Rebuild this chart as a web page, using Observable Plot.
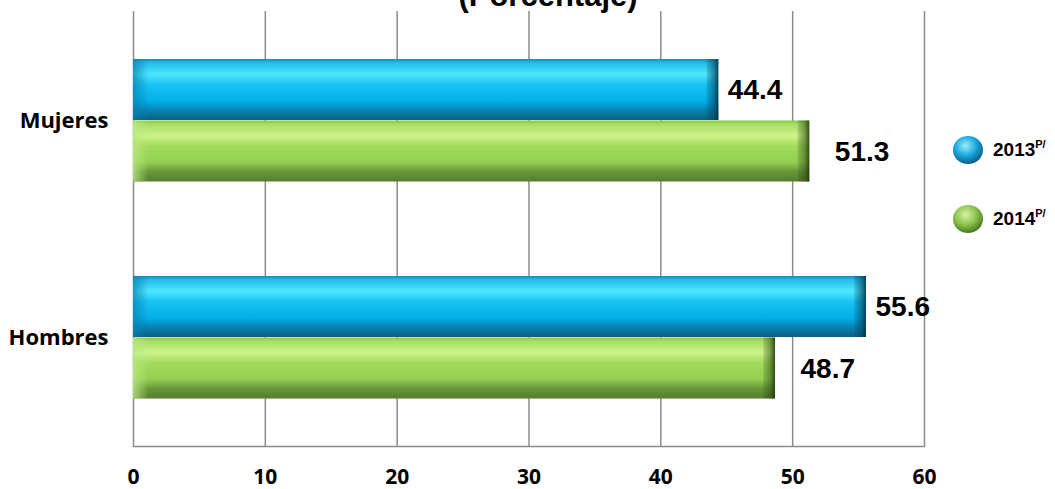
<!DOCTYPE html>
<html>
<head>
<meta charset="utf-8">
<script src="https://cdn.jsdelivr.net/npm/d3@7"></script>
<script src="https://cdn.jsdelivr.net/npm/@observablehq/plot@0.6"></script>
<style>
  html, body { margin: 0; padding: 0; background: #fff; }
  #wrap { position: relative; width: 1055px; height: 489px; overflow: hidden; }
  #title { position: absolute; left: 0; width: 1096px; top: -20px; text-align: center;
           font: bold 31px/31px "Liberation Sans", Arial, sans-serif; color: #000; white-space: nowrap; }
  #legend { position: absolute; left: 0; top: 0; pointer-events: none; }
  #chart svg g[aria-label="x-axis tick label"] text,
  #chart svg g[aria-label="y-axis tick label"] text {
    font-family: "Open Sans", sans-serif; font-weight: bold; fill: #000;
  }
</style>
</head>
<body>
<div id="wrap">
  <div id="chart"></div>
  <div id="title">(Porcentaje)</div>
  <svg id="legend" width="1055" height="489"></svg>
</div>
<script>
const categories = ["Mujeres", "Hombres"];
const seriesNames = ["2013", "2014"];
const values2013 = [44.4, 55.6];
const values2014 = [51.3, 48.7];
const xTicks = [0, 10, 20, 30, 40, 50, 60];

const rows = categories.flatMap((c, i) => [
  {cat: c, series: seriesNames[0], value: values2013[i]},
  {cat: c, series: seriesNames[1], value: values2014[i]}
]);
const b13 = rows.filter(d => d.series === seriesNames[0]);
const b14 = rows.filter(d => d.series === seriesNames[1]);

const in13 = {insetTop: 47, insetBottom: 109};
const in14 = {insetTop: 108.5, insetBottom: 47.5};
const labelStyle = {fontSize: 28, fontWeight: "bold", fontFamily: "Liberation Sans, Arial, sans-serif", fill: "#000", textAnchor: "start"};

const chart = Plot.plot({
  width: 1055,
  height: 489,
  marginLeft: 133,
  marginRight: 131,
  marginTop: 11,
  marginBottom: 43,
  style: {background: "transparent", color: "#000"},
  x: {domain: [0, 60]},
  y: {domain: categories, padding: 0},
  marks: [
    Plot.gridX(xTicks, {stroke: "#8c8c8c", strokeOpacity: 1, strokeWidth: 1.5}),
    Plot.frame({anchor: "bottom", stroke: "#8c8c8c", strokeWidth: 1.5}),
    Plot.barX(b13, {y: "cat", x: "value", ...in13, fill: "url(#g13)"}),
    Plot.barX(b13, {y: "cat", x1: 0, x2: d => Math.min(1.2, d.value), ...in13, fill: "url(#start13)"}),
    Plot.barX(b13, {y: "cat", x1: d => d.value - 0.9, x2: "value", ...in13, fill: "url(#end13)"}),
    Plot.barX(b14, {y: "cat", x: "value", ...in14, fill: "url(#g14)"}),
    Plot.barX(b14, {y: "cat", x1: 0, x2: d => Math.min(1.2, d.value), ...in14, fill: "url(#start14)"}),
    Plot.barX(b14, {y: "cat", x1: d => d.value - 0.9, x2: "value", ...in14, fill: "url(#end14)"}),
    Plot.text(b13, {y: "cat", x: "value", text: d => d.value.toFixed(1), dy: -31, dx: 9, ...labelStyle}),
    Plot.text(b14, {y: "cat", x: "value", text: d => d.value.toFixed(1), dy: 31, dx: 25, ...labelStyle}),
    Plot.axisX(xTicks, {tickSize: 0, tickPadding: 23, label: null, fontSize: 21}),
    Plot.axisY({tickSize: 0, tickPadding: 25, label: null, fontSize: 22})
  ]
});

chart.insertAdjacentHTML("afterbegin", `
<defs>
  <linearGradient id="g13" x1="0" y1="0" x2="0" y2="1">
    <stop offset="0" stop-color="#1789b8"/>
    <stop offset="0.06" stop-color="#22bde8"/>
    <stop offset="0.25" stop-color="#4fe6ff"/>
    <stop offset="0.42" stop-color="#18c4f2"/>
    <stop offset="0.68" stop-color="#02b0ea"/>
    <stop offset="0.84" stop-color="#0784b2"/>
    <stop offset="1" stop-color="#0a5f80"/>
  </linearGradient>
  <linearGradient id="g14" x1="0" y1="0" x2="0" y2="1">
    <stop offset="0" stop-color="#86c44a"/>
    <stop offset="0.06" stop-color="#a8dd66"/>
    <stop offset="0.25" stop-color="#cdf48a"/>
    <stop offset="0.42" stop-color="#a2da5c"/>
    <stop offset="0.68" stop-color="#94d052"/>
    <stop offset="0.84" stop-color="#68963a"/>
    <stop offset="1" stop-color="#557e2c"/>
  </linearGradient>
  <linearGradient id="start13" x1="0" y1="0" x2="1" y2="0">
    <stop offset="0" stop-color="#0a7fb0" stop-opacity="0.7"/>
    <stop offset="1" stop-color="#0a7fb0" stop-opacity="0"/>
  </linearGradient>
  <linearGradient id="start14" x1="0" y1="0" x2="1" y2="0">
    <stop offset="0" stop-color="#b8e880" stop-opacity="0.8"/>
    <stop offset="1" stop-color="#b8e880" stop-opacity="0"/>
  </linearGradient>
  <linearGradient id="end13" x1="0" y1="0" x2="1" y2="0">
    <stop offset="0" stop-color="#04415a" stop-opacity="0.15"/>
    <stop offset="0.6" stop-color="#04415a" stop-opacity="0.55"/>
    <stop offset="1" stop-color="#03283a" stop-opacity="0.85"/>
  </linearGradient>
  <linearGradient id="end14" x1="0" y1="0" x2="1" y2="0">
    <stop offset="0" stop-color="#2c4a10" stop-opacity="0.15"/>
    <stop offset="0.6" stop-color="#2c4a10" stop-opacity="0.5"/>
    <stop offset="1" stop-color="#1c300a" stop-opacity="0.85"/>
  </linearGradient>
</defs>`);

document.getElementById("chart").appendChild(chart);

// Legend
const legend = d3.select("#legend");
const defs = legend.append("defs");
const sphere = (id, light, mid, dark) => {
  const g = defs.append("radialGradient").attr("id", id).attr("cx", "0.42").attr("cy", "0.35").attr("r", "0.65");
  g.append("stop").attr("offset", "0").attr("stop-color", light);
  g.append("stop").attr("offset", "0.55").attr("stop-color", mid);
  g.append("stop").attr("offset", "1").attr("stop-color", dark);
};
sphere("s13", "#9aeeff", "#1ba7dc", "#0a5f88");
sphere("s14", "#d6f4a6", "#8cc44c", "#4a7a22");
const legendItems = [
  {name: seriesNames[0], fill: "url(#s13)", cy: 150},
  {name: seriesNames[1], fill: "url(#s14)", cy: 219}
];
legendItems.forEach(it => {
  legend.append("ellipse").attr("cx", 968).attr("cy", it.cy).attr("rx", 15).attr("ry", 14).attr("fill", it.fill);
  const t = legend.append("text").attr("x", 993).attr("y", it.cy + 6)
    .attr("font-family", "Liberation Sans, Arial, sans-serif").attr("font-weight", "bold").attr("font-size", 19).attr("fill", "#000");
  t.append("tspan").text(it.name);
  t.append("tspan").attr("font-size", 11).attr("dy", -8).text("P/");
});
</script>
</body>
</html>
